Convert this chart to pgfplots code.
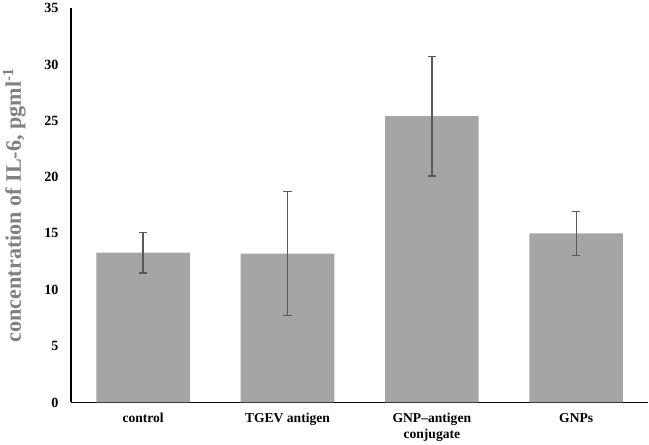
\documentclass[border=0pt]{standalone}
\usepackage{fontspec}
\setmainfont{Liberation Serif}
\usepackage{pgfplots}
\pgfplotsset{compat=1.18}
\definecolor{barfill}{HTML}{A5A5A5}
\definecolor{errcol}{HTML}{595959}
\definecolor{labcol}{HTML}{808080}
\begin{document}
\begin{tikzpicture}
\begin{axis}[
  scale only axis,
  width=574pt, height=392pt,
  xmin=-0.5, xmax=3.5,
  ymin=0, ymax=35,
  axis x line=bottom, axis y line=left,
  axis line style={-, line width=1.2pt, black},
  ytick={0,5,...,35},
  xtick={0,1,2,3},
  xticklabels={control, TGEV antigen, {GNP--antigen\\conjugate}, GNPs},
  major tick length=0pt,
  /pgf/number format/assume math mode=true,
  yticklabel style={font=\fontsize{14}{14}\selectfont\bfseries, xshift=-9pt},
  xticklabel style={font=\fontsize{13.5}{16}\selectfont\bfseries, align=center, yshift=-7pt, anchor=north},
  ylabel={concentration of IL-6, pgml\textsuperscript{-1}},
  ylabel style={at={(axis description cs:-0.098,0.5)}, anchor=center, inner sep=0pt,
    font=\fontsize{22}{22}\selectfont\bfseries, color=labcol},
  ybar, bar width=93pt,
  clip=false,
]
\addplot[fill=barfill, draw=none,
  error bars/.cd, y dir=both, y explicit,
  error bar style={color=errcol, line width=1.3pt},
  error mark options={rotate=90, mark size=4pt, line width=1.3pt, color=errcol}]
  coordinates {
    (0,13.3) +- (0,1.8)
    (1,13.2) +- (0,5.5)
    (2,25.4) +- (0,5.3)
    (3,15.0) +- (0,1.95)
  };
\end{axis}
% small white margin on the left, as in the reference
\path (current bounding box.west) ++(-3pt,0) coordinate (m);
\end{tikzpicture}
\end{document}
